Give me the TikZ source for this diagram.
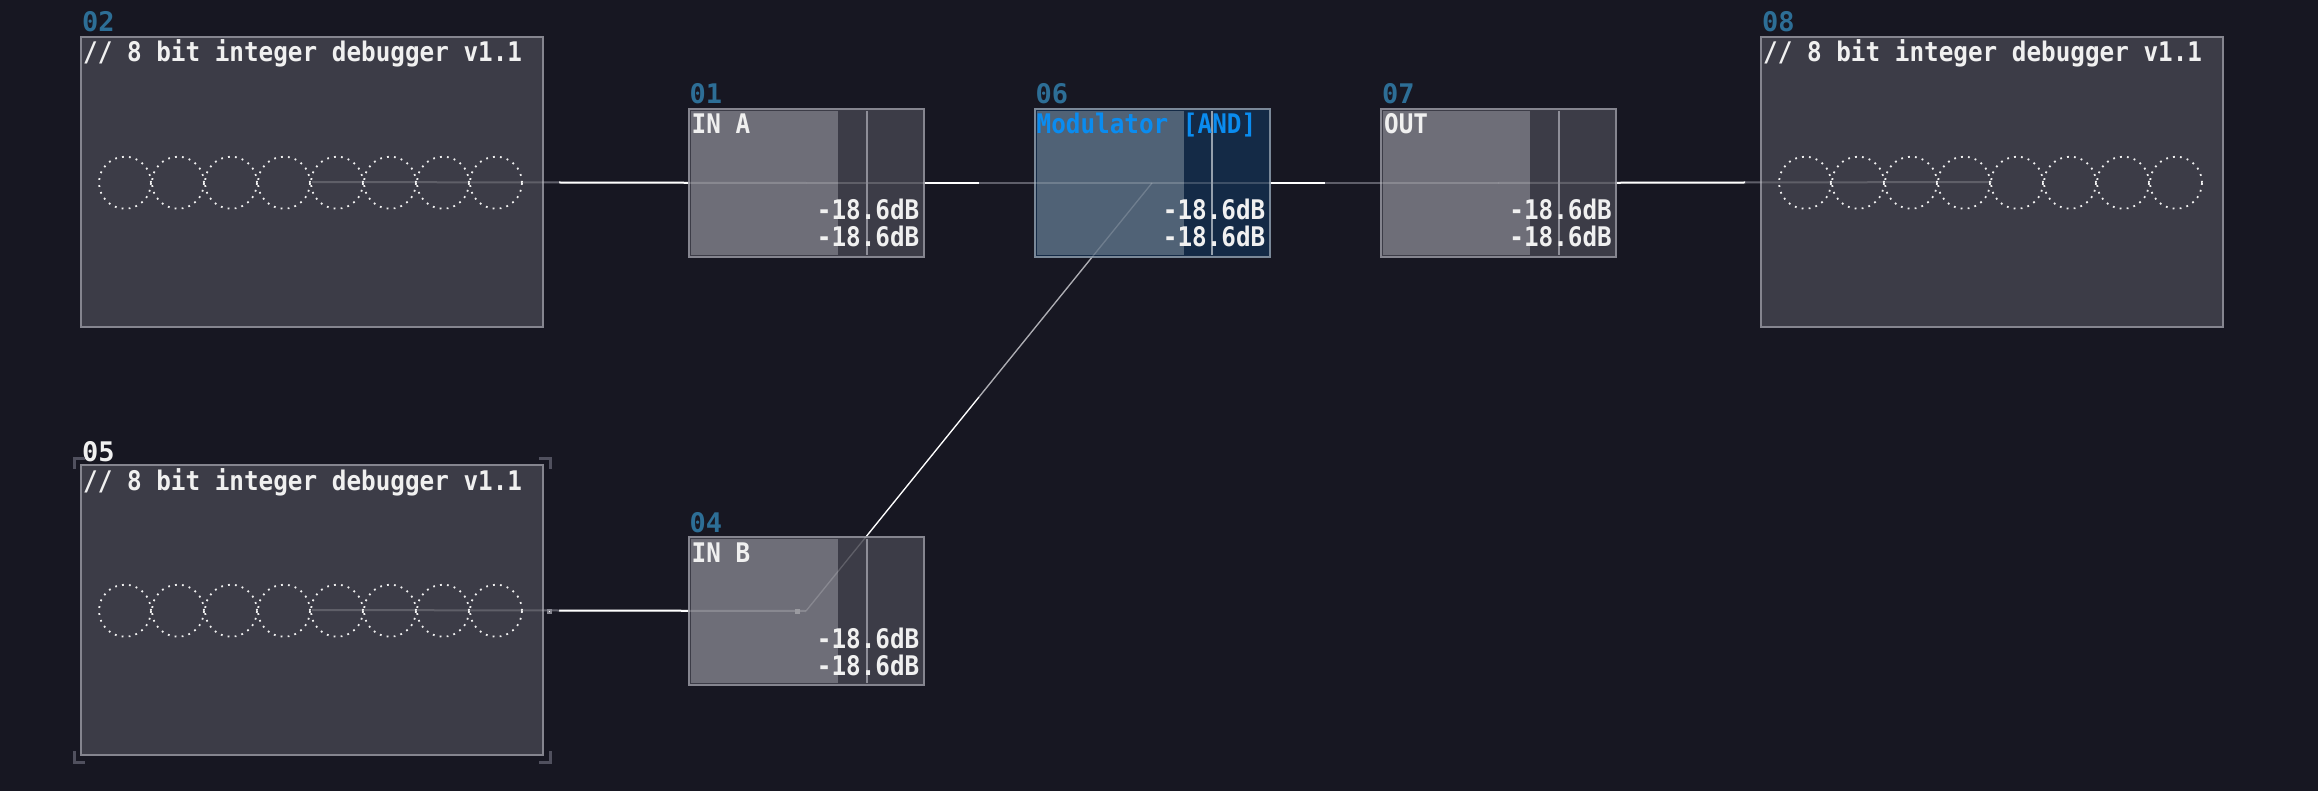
\documentclass[tikz,border=0pt]{standalone}
\usepackage{fontspec}
\usetikzlibrary{calc}
\newfontfamily\pix[FakeStretch=0.9]{DejaVu Sans Mono Bold}
\newfontfamily\pixlab[FakeStretch=1.0]{DejaVu Sans Mono Bold}
\definecolor{bgc}{HTML}{171722}
\definecolor{boxfill}{HTML}{3C3C47}
\definecolor{boxline}{HTML}{85858F}
\definecolor{lightreg}{HTML}{6E6E78}
\definecolor{vlinec}{HTML}{8E8E98}
\definecolor{modleft}{HTML}{506276}
\definecolor{modright}{HTML}{142A46}
\definecolor{modline}{HTML}{7A8898}
\definecolor{modtext}{HTML}{0A8CF0}
\definecolor{labblue}{HTML}{2D6E96}
\definecolor{txtc}{HTML}{F0F0F0}
\definecolor{halfgray}{HTML}{3C3C4A}
\definecolor{selc}{HTML}{50505E}
\definecolor{dotc}{HTML}{F0F0F0}
\pgfdeclarelayer{bglayer}
\pgfsetlayers{bglayer,main}
\begin{document}
\begin{tikzpicture}[x=1pt,y=-1pt,
  bigbox/.style={rectangle, draw=boxline, line width=2pt, fill=boxfill, inner sep=0pt, minimum width=462pt, minimum height=290pt},
  smallbox/.style={rectangle, draw=boxline, line width=2pt, fill=boxfill, inner sep=0pt, minimum width=235pt, minimum height=148pt},
  modbox/.style={rectangle, draw=modline, line width=2pt, fill=modright, inner sep=0pt, minimum width=235pt, minimum height=148pt},
  titletext/.style={inner sep=0pt, text=txtc, font=\pix\fontsize{27}{27}\selectfont},
  labtext/.style={inner sep=0pt, text=labblue, font=\pixlab\fontsize{27}{27}\selectfont, anchor=base west},
  dbtext/.style={inner sep=0pt, text=txtc, font=\pix\fontsize{27}{27}\selectfont, anchor=base east},
  dotcircle/.style={draw=dotc, line width=1.8pt, dash pattern=on 1.8pt off 5.2pt},
  linkwhite/.style={draw=white, line width=2pt},
  linkgray/.style={draw=halfgray, line width=2pt},
  dimlink/.style={draw=white, draw opacity=0.18, line width=2pt},
  vline/.style={draw=vlinec, line width=2pt},
  selbracket/.style={draw=selc, line width=3pt}
]
\useasboundingbox (0,0) rectangle (2318,791);

% module boxes
\node[bigbox] (n02) at (312,182) {};
\node[bigbox] (n05) at (312,610) {};
\node[bigbox] (n08) at (1992,182) {};
\node[smallbox] (n01) at (806,183) {};
\node[smallbox] (n04) at (806,611) {};
\node[modbox] (n06) at (1152,183) {};
\node[smallbox] (n07) at (1498.5,183) {};

% links (below boxes)
\begin{pgfonlayer}{bglayer}
  \fill[bgc] (0,0) rectangle (2318,791);
  \coordinate (m12) at ($(n01.center)!0.5!(n02.center)$);
  \coordinate (m16) at ($(n01.center)!0.5!(n06.center)$);
  \coordinate (m67) at ($(n06.center)!0.5!(n07.center)$);
  \coordinate (m78) at ($(n07.center)!0.5!(n08.center)$);
  \coordinate (m45) at ($(n04.center)!0.5!(n05.center)$);
  \coordinate (m46) at ($(n04.center)!0.5!(n06.center)$);
  \draw[linkwhite] (n01.center) -- (m12);
  \draw[linkgray] (m12) -- (n02.center);
  \draw[linkwhite] (n01.center) -- (m16);
  \draw[linkgray] (m16) -- (n06.center);
  \draw[linkwhite] (n06.center) -- (m67);
  \draw[linkgray] (m67) -- (n07.center);
  \draw[linkwhite] (n07.center) -- (m78);
  \draw[linkgray] (m78) -- (n08.center);
  \draw[linkwhite] (n04.center) -- (m45);
  \draw[linkgray] (m45) -- (n05.center);
  \draw[linkwhite, line width=1.3pt] (n04.center) -- (m46);
  \draw[linkgray, draw=halfgray!50!white, line width=1.3pt] (m46) -- (n06.center);
\end{pgfonlayer}

% inner regions of small modules
\foreach \n in {n01,n04,n07}{
  \fill[lightreg] ($(\n.north west)+(3,3)$) rectangle ($(\n.south west)+(150,-3)$);
}
\fill[modleft] ($(n06.north west)+(3,3)$) rectangle ($(n06.south west)+(150,-3)$);

% debugger dotted circles
\foreach \n in {n02,n05,n08}{
  \foreach \k in {0,...,7}{
    \draw[dotcircle] ($(\n.west)+(45+53*\k,0.7)$) circle (26pt);
  }
}

% dimmed links seen through boxes
\draw[dimlink] (n01.center) -- (n02.center);
\draw[dimlink] (n01.center) -- (n06.center);
\draw[dimlink] (n06.center) -- (n07.center);
\draw[dimlink] (n07.center) -- (n08.center);
\draw[dimlink] (n04.center) -- (n05.center);
\draw[dimlink, line width=1.3pt] (n04.center) -- (n06.center);

% level lines
\foreach \n in {n01,n04,n07}{
  \draw[vline] ($(\n.north west)+(179,3)$) -- ($(\n.south west)+(179,-3)$);
}
\draw[vline, draw=modline!80!white] ($(n06.north west)+(178,3)$) -- ($(n06.south west)+(178,-3)$);

% titles
\node[titletext, anchor=base west] (t02) at ($(n02.north west)+(3,26)$) {// 8 bit integer debugger v1.1};
\node[titletext, anchor=base west] (t05) at ($(n05.north west)+(3,26)$) {// 8 bit integer debugger v1.1};
\node[titletext, anchor=base west] (t08) at ($(n08.north west)+(3,26)$) {// 8 bit integer debugger v1.1};
\node[titletext, anchor=base west] (t01) at ($(n01.north west)+(4,26)$) {IN A};
\node[titletext, anchor=base west] (t04) at ($(n04.north west)+(4,26)$) {IN B};
\node[titletext, anchor=base west] (t07) at ($(n07.north west)+(4,26)$) {OUT};
\node[titletext, anchor=base west, text=modtext] (t06) at ($(n06.north west)+(3,26)$) {Modulator [AND]};

% dB readouts
\foreach \n in {n01,n04,n06,n07}{
  \node[dbtext] (\n da) at ($(\n.north east)+(-5,112)$) {-18.6dB};
  \node[dbtext] (\n db) at ($(\n.north east)+(-5,139)$) {-18.6dB};
}

% module numbers
\node[labtext] (l02) at ($(n02.north west)+(2,-4)$) {02};
\node[labtext] (l08) at ($(n08.north west)+(2,-4)$) {08};
\node[labtext] (l01) at ($(n01.north west)+(2,-4)$) {01};
\node[labtext] (l04) at ($(n04.north west)+(2,-4)$) {04};
\node[labtext] (l06) at ($(n06.north west)+(2,-4)$) {06};
\node[labtext] (l07) at ($(n07.north west)+(2,-4)$) {07};
\node[labtext, text=txtc] (l05) at ($(n05.north west)+(2,-3)$) {05};

% selection brackets round 05
\draw[selbracket] ($(n05.north west)+(-6,5)$) -- ($(n05.north west)+(-6,-6)$) -- ($(n05.north west)+(5,-6)$);
\draw[selbracket] ($(n05.north east)+(6,5)$) -- ($(n05.north east)+(6,-6)$) -- ($(n05.north east)+(-5,-6)$);
\draw[selbracket] ($(n05.south west)+(-6,-5)$) -- ($(n05.south west)+(-6,6)$) -- ($(n05.south west)+(5,6)$);
\draw[selbracket] ($(n05.south east)+(6,-5)$) -- ($(n05.south east)+(6,6)$) -- ($(n05.south east)+(-5,6)$);

% link handles
\fill[boxline] (546.5,608.5) rectangle (551.5,613.5);
\fill[white] (548.5,610.5) rectangle (549.5,611.5);
\fill[lightreg!70!white] (794.5,608.5) rectangle (799.5,613.5);
\end{tikzpicture}
\end{document}
